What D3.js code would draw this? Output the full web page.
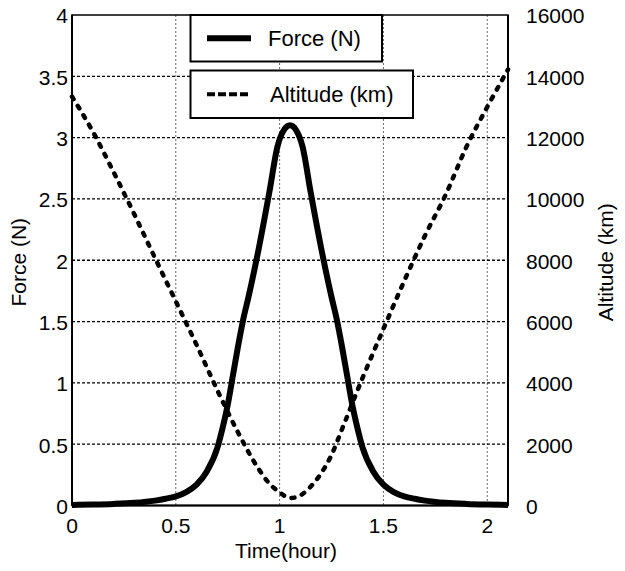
<!DOCTYPE html>
<html>
<head>
<meta charset="utf-8">
<script src="https://cdn.jsdelivr.net/npm/d3@7"></script>
<style>
  html, body { margin: 0; padding: 0; background: #fff; }
  svg text { font-family: "Liberation Sans", Arial, Helvetica, sans-serif; fill: #000; }
</style>
</head>
<body>
<svg id="chart" width="625" height="571"></svg>
<script>
// ---- data ----
const forceTime = [0.0, 0.1, 0.2, 0.3, 0.4, 0.45, 0.5, 0.55, 0.6, 0.65, 0.7, 0.725, 0.75, 0.775, 0.8, 0.825, 0.85, 0.9, 0.95, 0.99, 1.02, 1.05,
                   1.08, 1.11, 1.15, 1.2, 1.25, 1.275, 1.3, 1.325, 1.35, 1.375, 1.4, 1.45, 1.5, 1.55, 1.6, 1.65, 1.7, 1.8, 1.9, 2.0, 2.1];
const forceValues = [0.005, 0.008, 0.013, 0.022, 0.04, 0.055, 0.075, 0.11, 0.17, 0.28, 0.47, 0.63, 0.82, 1.06, 1.30, 1.52, 1.70, 2.10, 2.55, 2.93, 3.06, 3.10,
                     3.06, 2.93, 2.55, 2.10, 1.70, 1.52, 1.30, 1.06, 0.82, 0.63, 0.47, 0.28, 0.17, 0.11, 0.075, 0.055, 0.04, 0.022, 0.013, 0.008, 0.005];
const altitudeTime = [0.0, 0.1, 0.2, 0.3, 0.4, 0.5, 0.6, 0.7, 0.8, 0.9, 0.95, 1.0, 1.05, 1.1, 1.15, 1.2, 1.25, 1.3, 1.4, 1.5, 1.6, 1.7, 1.8, 1.9, 2.0, 2.1];
const altitudeValues = [13340, 12200, 10880, 9500, 8070, 6660, 5240, 3760, 2380, 1180, 720, 430, 240, 330, 620, 1050, 1650, 2480, 4170, 5760, 7320, 8800, 10140, 11700, 13000, 14220];
const xTicks = [0, 0.5, 1, 1.5, 2];
const xTickLabels = ["0", "0.5", "1", "1.5", "2"];
const forceTicks = [0, 0.5, 1, 1.5, 2, 2.5, 3, 3.5, 4];
const forceTickLabels = ["0", "0.5", "1", "1.5", "2", "2.5", "3", "3.5", "4"];
const altitudeTicks = [0, 2000, 4000, 6000, 8000, 10000, 12000, 14000, 16000];
const altitudeTickLabels = ["0", "2000", "4000", "6000", "8000", "10000", "12000", "14000", "16000"];
const seriesNames = ["Force (N)", "Altitude (km)"];
const axisTitles = { x: "Time(hour)", yLeft: "Force (N)", yRight: "Altitude (km)" };

// ---- layout ----
const svg = d3.select("#chart");
const L = 72, R = 508, T = 15, B = 505.5;
const FS = 21;

const x = d3.scaleLinear().domain([0, 2.1]).range([L, R]);
const yF = d3.scaleLinear().domain([0, 4]).range([B, T]);
const yA = d3.scaleLinear().domain([0, 16000]).range([B, T]);

// grid
const g = svg.append("g");
g.selectAll("line.vg").data(xTicks.filter(d => d > 0)).join("line")
  .attr("x1", d => x(d)).attr("x2", d => x(d)).attr("y1", T).attr("y2", B)
  .attr("stroke", "#666").attr("stroke-width", 1).attr("stroke-dasharray", "2,2");
g.selectAll("line.hg").data(forceTicks.filter(d => d > 0 && d < 4)).join("line")
  .attr("x1", L).attr("x2", R).attr("y1", d => yF(d)).attr("y2", d => yF(d))
  .attr("stroke", "#000").attr("stroke-width", 1.3).attr("stroke-dasharray", "3,2");

// lines
const forceLine = d3.line().x((d, i) => x(forceTime[i])).y(d => yF(d)).curve(d3.curveMonotoneX);
const altLine = d3.line().x((d, i) => x(altitudeTime[i])).y(d => yA(d)).curve(d3.curveMonotoneX);

svg.append("path").attr("d", altLine(altitudeValues))
  .attr("fill", "none").attr("stroke", "#000").attr("stroke-width", 4.5)
  .attr("stroke-dasharray", "3,8").attr("stroke-linecap", "round");
svg.append("path").attr("d", forceLine(forceValues))
  .attr("fill", "none").attr("stroke", "#000").attr("stroke-width", 6)
  .attr("stroke-linejoin", "round");

// axes box
svg.append("rect").attr("x", L).attr("y", T).attr("width", R - L).attr("height", B - T)
  .attr("fill", "none").attr("stroke", "#000").attr("stroke-width", 1.5);
svg.append("line").attr("x1", L).attr("x2", L).attr("y1", T).attr("y2", B).attr("stroke", "#000").attr("stroke-width", 2);
svg.append("line").attr("x1", R).attr("x2", R).attr("y1", T).attr("y2", B).attr("stroke", "#000").attr("stroke-width", 2);
svg.append("line").attr("x1", L).attr("x2", R).attr("y1", B).attr("y2", B).attr("stroke", "#000").attr("stroke-width", 2);

// tick labels
svg.append("g").selectAll("text").data(xTicks).join("text")
  .attr("x", d => x(d)).attr("y", 533).attr("text-anchor", "middle")
  .attr("font-size", FS).text((d, i) => xTickLabels[i]);
svg.append("g").selectAll("text").data(forceTicks).join("text")
  .attr("x", 68).attr("y", d => yF(d)).attr("dy", "0.4em").attr("text-anchor", "end")
  .attr("font-size", FS).text((d, i) => forceTickLabels[i]);
svg.append("g").selectAll("text").data(altitudeTicks).join("text")
  .attr("x", 526).attr("y", d => yA(d)).attr("dy", "0.4em").attr("text-anchor", "start")
  .attr("font-size", FS).text((d, i) => altitudeTickLabels[i]);

// axis titles
svg.append("text").attr("x", 286).attr("y", 558).attr("text-anchor", "middle")
  .attr("font-size", FS).text(axisTitles.x);
svg.append("text").attr("transform", `translate(26,${(T + B) / 2 + 2}) rotate(-90)`)
  .attr("text-anchor", "middle").attr("font-size", FS).text(axisTitles.yLeft);
svg.append("text").attr("transform", `translate(613,${(T + B) / 2 + 2}) rotate(-90)`)
  .attr("text-anchor", "middle").attr("font-size", FS).text(axisTitles.yRight);

// legends
const legends = [
  { x0: 190.5, x1: 382, y0: 15, y1: 61.5, dash: null, w: 6 },
  { x0: 190.5, x1: 413, y0: 70.5, y1: 118, dash: "8,3", w: 4 }
];
legends.forEach((lg, i) => {
  const lgG = svg.append("g");
  lgG.append("rect").attr("x", lg.x0).attr("y", lg.y0).attr("width", lg.x1 - lg.x0).attr("height", lg.y1 - lg.y0)
    .attr("fill", "#fff").attr("stroke", "#000").attr("stroke-width", 2);
  const cy = (lg.y0 + lg.y1) / 2;
  lgG.append("line").attr("x1", 207).attr("x2", 251).attr("y1", cy).attr("y2", cy)
    .attr("stroke", "#000").attr("stroke-width", lg.w).attr("stroke-dasharray", lg.dash);
  lgG.append("text").attr("x", 268 + i * 2).attr("y", cy).attr("dy", "0.36em")
    .attr("font-size", FS + 1).text(seriesNames[i]);
});
</script>
</body>
</html>
